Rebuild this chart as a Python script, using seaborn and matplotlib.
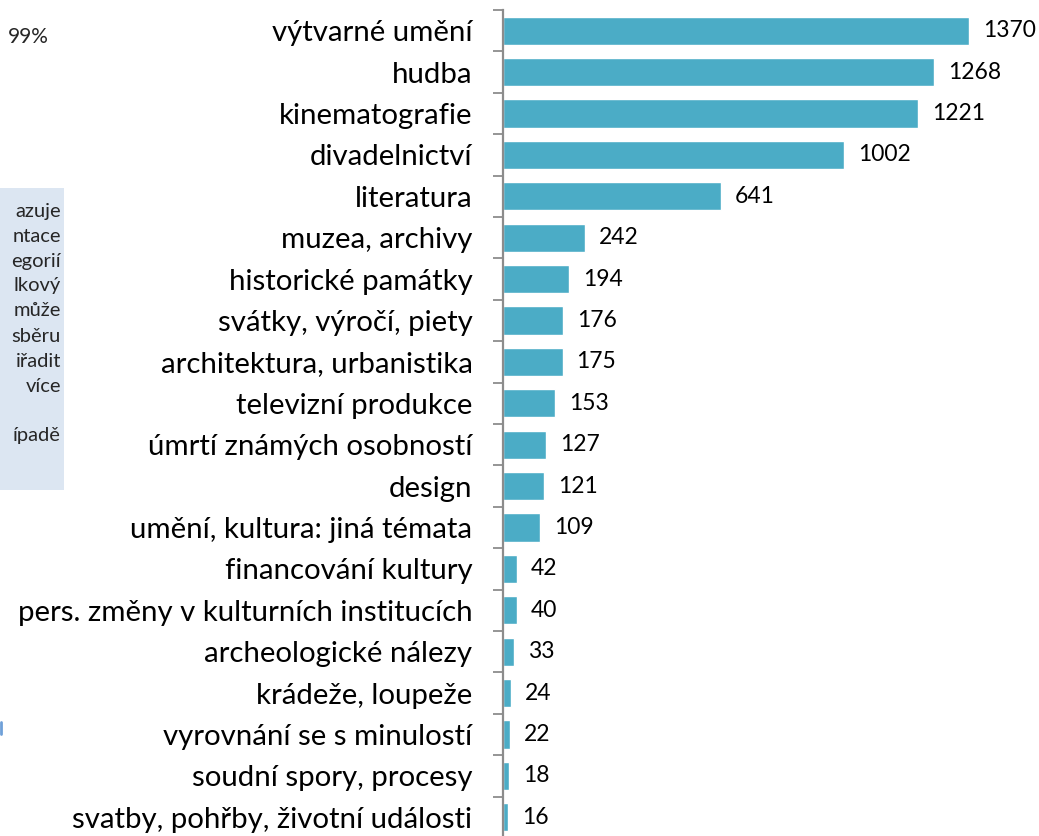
import matplotlib
matplotlib.use('Agg')
import matplotlib.pyplot as plt
import matplotlib.patches as mpatches
import matplotlib.lines as mlines
import seaborn as sns
import pandas as pd

# ---- data ----
categories = ['výtvarné umění', 'hudba', 'kinematografie', 'divadelnictví', 'literatura',
              'muzea, archivy', 'historické památky', 'svátky, výročí, piety',
              'architektura, urbanistika', 'televizní produkce', 'úmrtí známých osobností',
              'design', 'umění, kultura: jiná témata', 'financování kultury',
              'pers. změny v kulturních institucích', 'archeologické nálezy',
              'krádeže, loupeže', 'vyrovnání se s minulostí', 'soudní spory, procesy',
              'svatby, pohřby, životní události']
values = [1370, 1268, 1221, 1002, 641, 242, 194, 176, 175, 153, 127, 121, 109,
          42, 40, 33, 24, 22, 18, 16]

# clipped text fragments visible at the left edge of the screenshot
pct_fragment = '99%'
note_fragments = ['azuje', 'ntace', 'egorií', 'lkový', 'může', 'sběru',
                  'iřadit', 'více', '', 'ípadě']

df = pd.DataFrame({'kategorie': categories, 'pocet': values})

sns.set_style('white')
plt.rcParams['font.family'] = ['Lato', 'DejaVu Sans']

W, H = 1039, 836
fig = plt.figure(figsize=(W / 100, H / 100), dpi=100)

# axes placed so that the value axis starts at x=503 px
ax = fig.add_axes([503 / W, 1 - 838 / H, 1 - 503 / W, 828 / H])

bar_color = '#4BACC6'
sns.barplot(data=df, x='pocet', y='kategorie', orient='h', color=bar_color,
            saturation=1, width=0.68, ax=ax)

ax.set_xlim(0, (W - 503) / 0.3402)
ax.set_ylim(len(categories) - 0.5, -0.5)
ax.set_xlabel('')
ax.set_ylabel('')
ax.set_xticks([])

# labels at bar centres, tick marks at the category boundaries
ax.tick_params(axis='y', which='major', length=0, pad=22, labelsize=21.2, labelcolor='black')
ax.set_yticks([i - 0.5 for i in range(len(categories) + 1)], minor=True)
ax.tick_params(axis='y', which='minor', length=7, width=1.3, color='#8C8C8C', left=True)

for side in ['top', 'right', 'bottom']:
    ax.spines[side].set_visible(False)
ax.spines['left'].set_color('#8C8C8C')
ax.spines['left'].set_linewidth(1.6)

ax.bar_label(ax.containers[0], labels=[str(v) for v in values], padding=10,
             fontsize=16.5, color='black')

# left-edge fragments of neighbouring content
fig.text(8 / W, 1 - 37 / H, pct_fragment, fontsize=15, va='center', ha='left')
fig.patches.append(mpatches.Rectangle((0, 1 - 490 / H), 64 / W, 302 / H,
                                      transform=fig.transFigure, facecolor='#DCE6F2',
                                      edgecolor='none', zorder=0))
for i, t in enumerate(note_fragments):
    fig.text(61 / W, 1 - (211 + 25 * i) / H, t, fontsize=14.5, va='center', ha='right')
fig.lines.append(mlines.Line2D([1 / W, 1 / W], [1 - 722 / H, 1 - 734 / H],
                               transform=fig.transFigure, color='#6FA0D8', linewidth=2))

fig.savefig('out.png', dpi=100)
